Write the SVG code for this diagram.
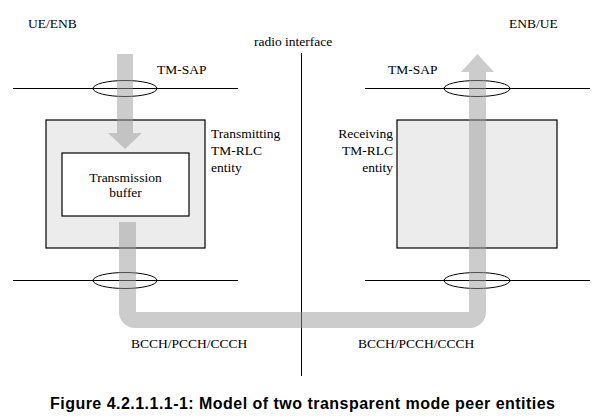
<svg xmlns="http://www.w3.org/2000/svg" width="602" height="420" viewBox="0 0 602 420">
<style>
.t{font-family:"Liberation Serif","Times New Roman","DejaVu Serif",serif;font-size:13.5px;fill:#000}
.cap{font-family:"Liberation Sans",Arial,sans-serif;font-size:16px;font-weight:bold;fill:#000}
.ln{stroke:#000;stroke-width:1;fill:none}
.box{fill:#ececec;stroke:#000;stroke-width:1.2}
.inner{fill:#fff;stroke:#000;stroke-width:1.2}
.sap{fill:none;stroke:#000;stroke-width:1}
.pipe{fill:#9a9a9a;fill-opacity:0.5;stroke:none}
</style>
<rect width="602" height="420" fill="#fff"/>
<g id="labels">
<text class="t" x="28" y="28">UE/ENB</text>
<text class="t" x="509" y="28">ENB/UE</text>
<text class="t" x="254" y="46">radio interface</text>
</g>
<g id="radio-line"><line class="ln" x1="301.5" y1="53" x2="301.5" y2="376"/></g>
<g id="layer-lines">
<line class="ln" x1="13" y1="88.5" x2="238" y2="88.5"/>
<line class="ln" x1="365" y1="88.5" x2="590" y2="88.5"/>
<line class="ln" x1="13" y1="280.5" x2="238" y2="280.5"/>
<line class="ln" x1="365" y1="280.5" x2="590" y2="280.5"/>
</g>
<g id="tx-entity">
<rect class="box" x="46" y="120" width="159" height="128"/>
<rect class="inner" x="62" y="153" width="127" height="63"/>
<text class="t" x="125.5" y="182" text-anchor="middle">Transmission</text>
<text class="t" x="125.5" y="197" text-anchor="middle">buffer</text>
<text class="t" x="211" y="138">Transmitting</text>
<text class="t" x="211" y="155">TM-RLC</text>
<text class="t" x="211" y="172">entity</text>
</g>
<g id="rx-entity">
<rect class="box" x="397" y="120" width="160" height="128"/>
<text class="t" x="393" y="138" text-anchor="end">Receiving</text>
<text class="t" x="393" y="155" text-anchor="end">TM-RLC</text>
<text class="t" x="393" y="172" text-anchor="end">entity</text>
</g>
<g id="saps">
<ellipse class="sap" cx="125" cy="88.5" rx="32" ry="8"/>
<ellipse class="sap" cx="477" cy="88.5" rx="33" ry="8"/>
<ellipse class="sap" cx="125" cy="280.5" rx="32" ry="8"/>
<ellipse class="sap" cx="477" cy="280.5" rx="33" ry="8"/>
<text class="t" x="157" y="74">TM-SAP</text>
<text class="t" x="388" y="74">TM-SAP</text>
</g>
<g id="connectors">
<path class="pipe" d="M117,54 L133,54 L133,133 L142,133 L125,149 L108,133 L117,133 Z"/>
<path class="pipe" d="M119,222 L136,222 L136,312 L469,312 L469,72 L461,72 L477.5,54 L494,72 L486,72 L486,312 A16,16 0 0 1 470,328 L135,328 A16,16 0 0 1 119,312 Z"/>
<text class="t" x="131" y="348">BCCH/PCCH/CCCH</text>
<text class="t" x="358" y="348">BCCH/PCCH/CCCH</text>
</g>
<g id="caption">
<text class="cap" x="50" y="409" textLength="505" lengthAdjust="spacing">Figure 4.2.1.1.1-1: Model of two transparent mode peer entities</text>
</g>
</svg>
